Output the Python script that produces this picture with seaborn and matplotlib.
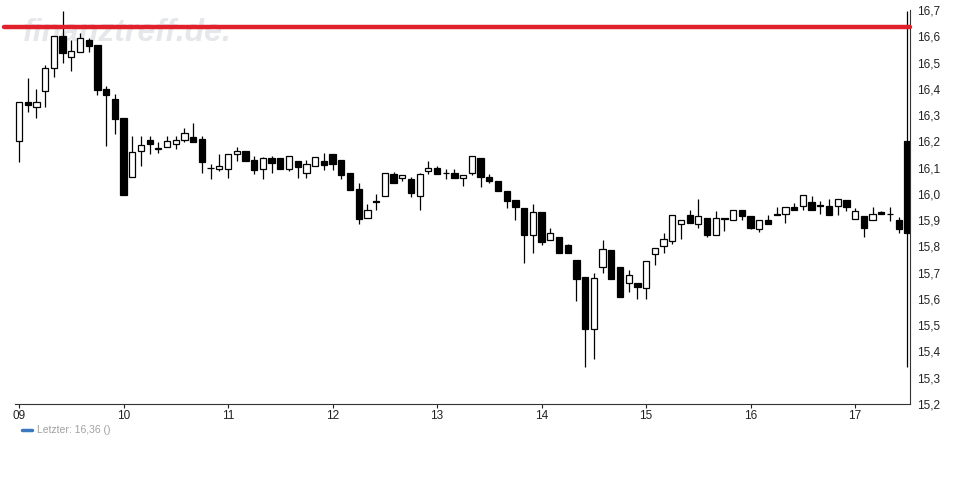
import matplotlib
matplotlib.use("Agg")
import matplotlib.pyplot as plt
from matplotlib.lines import Line2D
import seaborn as sns
import pandas as pd

# 2-hour candles, 12 per day, day 09 .. 17
day_labels = ["09", "10", "11", "12", "13", "14", "15", "16", "17"]
candles_per_day = 12

opens = [16.20, 16.35, 16.33, 16.39, 16.48, 16.60, 16.522, 16.541, 16.586, 16.567,
         16.40, 16.361, 16.289, 16.063, 16.163, 16.205, 16.172, 16.177, 16.189, 16.204,
         16.215, 16.208, 16.097, 16.096, 16.096, 16.151, 16.162, 16.128, 16.096, 16.135,
         16.135, 16.096, 16.124, 16.078, 16.105, 16.124, 16.151, 16.128, 16.078, 16.018,
         15.907, 15.969, 15.991, 16.075, 16.059, 16.056, 15.991, 16.088, 16.097, 16.078,
         16.078, 16.059, 16.078, 16.137, 16.063, 16.048, 16.010, 15.976, 15.945, 15.842,
         15.930, 15.823, 15.835, 15.804, 15.747, 15.683, 15.485, 15.723, 15.786, 15.722,
         15.660, 15.660, 15.641, 15.770, 15.800, 15.819, 15.884, 15.918, 15.884, 15.907,
         15.842, 15.905, 15.900, 15.938, 15.915, 15.865, 15.900, 15.920, 15.922, 15.949,
         15.953, 15.968, 15.953, 15.953, 15.953, 15.976, 15.903, 15.915, 15.900, 15.931,
         15.922, 15.900, 16.200]
highs = [16.35, 16.44, 16.40, 16.49, 16.60, 16.696, 16.586, 16.611, 16.595, 16.567,
         16.411, 16.379, 16.289, 16.22, 16.22, 16.22, 16.199, 16.22, 16.22, 16.251,
         16.27, 16.22, 16.114, 16.152, 16.151, 16.178, 16.162, 16.144, 16.14, 16.144,
         16.135, 16.143, 16.124, 16.128, 16.139, 16.156, 16.151, 16.128, 16.078, 16.04,
         15.96, 15.999, 16.078, 16.082, 16.071, 16.063, 16.081, 16.125, 16.105, 16.093,
         16.093, 16.071, 16.144, 16.137, 16.075, 16.048, 16.010, 15.976, 15.945, 15.962,
         15.930, 15.869, 15.835, 15.808, 15.747, 15.683, 15.698, 15.824, 15.786, 15.722,
         15.710, 15.660, 15.745, 15.793, 15.852, 15.918, 15.900, 15.938, 15.979, 15.907,
         15.934, 15.907, 15.938, 15.938, 15.915, 15.900, 15.918, 15.949, 15.949, 15.964,
         15.995, 15.992, 15.972, 15.979, 15.979, 15.976, 15.945, 15.915, 15.949, 15.934,
         15.949, 15.911, 16.696]
lows = [16.12, 16.31, 16.29, 16.33, 16.445, 16.50, 16.469, 16.541, 16.541, 16.376,
        16.183, 16.228, 15.997, 16.063, 16.107, 16.152, 16.155, 16.177, 16.17, 16.199,
        16.199, 16.081, 16.058, 16.088, 16.062, 16.126, 16.126, 16.077, 16.058, 16.081,
        16.096, 16.088, 16.062, 16.062, 16.105, 16.091, 16.091, 16.057, 16.014, 15.887,
        15.907, 15.938, 15.991, 16.040, 16.048, 15.989, 15.938, 16.075, 16.075, 16.056,
        16.059, 16.031, 16.071, 16.027, 16.040, 16.012, 15.948, 15.901, 15.738, 15.776,
        15.807, 15.823, 15.774, 15.774, 15.593, 15.342, 15.373, 15.698, 15.677, 15.609,
        15.628, 15.599, 15.599, 15.728, 15.776, 15.808, 15.827, 15.888, 15.869, 15.835,
        15.842, 15.858, 15.900, 15.900, 15.865, 15.854, 15.887, 15.918, 15.888, 15.938,
        15.938, 15.938, 15.922, 15.918, 15.918, 15.934, 15.903, 15.837, 15.900, 15.922,
        15.896, 15.850, 15.342]
closes = [16.35, 16.34, 16.35, 16.48, 16.60, 16.537, 16.544, 16.592, 16.564, 16.395,
          16.378, 16.286, 15.997, 16.161, 16.185, 16.189, 16.170, 16.201, 16.205, 16.231,
          16.199, 16.123, 16.097, 16.105, 16.151, 16.162, 16.126, 16.092, 16.135, 16.119,
          16.096, 16.143, 16.104, 16.113, 16.139, 16.109, 16.113, 16.071, 16.014, 15.903,
          15.938, 15.969, 16.078, 16.040, 16.071, 16.002, 16.075, 16.097, 16.075, 16.078,
          16.059, 16.071, 16.144, 16.063, 16.048, 16.012, 15.974, 15.951, 15.842, 15.930,
          15.816, 15.850, 15.774, 15.774, 15.677, 15.485, 15.679, 15.789, 15.677, 15.609,
          15.690, 15.644, 15.745, 15.793, 15.827, 15.918, 15.900, 15.888, 15.915, 15.842,
          15.907, 15.905, 15.938, 15.915, 15.869, 15.900, 15.887, 15.920, 15.949, 15.938,
          15.995, 15.938, 15.953, 15.918, 15.979, 15.949, 15.934, 15.869, 15.922, 15.922,
          15.922, 15.865, 15.850]

y_ticks = [15.2, 15.3, 15.4, 15.5, 15.6, 15.7, 15.8, 15.9, 16.0, 16.1, 16.2, 16.3, 16.4, 16.5, 16.6, 16.7]
ref_level = 16.635
last_label = "Letzter: 16,36 ()"
watermark = "finanztreff.de."

df = pd.DataFrame({"open": opens, "high": highs, "low": lows, "close": closes})
df["idx"] = range(len(df))
df["up"] = df["close"] > df["open"]
df["bottom"] = df[["open", "close"]].min(axis=1)
df["height"] = (df["close"] - df["open"]).abs().clip(lower=0.003)

sns.set_style("white")
plt.rcParams["font.family"] = ["Liberation Sans", "DejaVu Sans"]

fig = plt.figure(figsize=(9.7, 5.0), dpi=100)
ax = fig.add_axes([15 / 970, 1 - 404 / 500, (910 - 15) / 970, 394 / 500])

# watermark, behind the candles
fig.text(23 / 970, 1 - 18 / 500, watermark, fontsize=23,
         fontweight="bold", fontstyle="italic", color="#e6e7ea", va="top", ha="left", zorder=-1)

# wicks
ax.vlines(df["idx"], df["low"], df["high"], color="black", linewidth=0.9, zorder=2)

# bodies
body_w = 0.72
ax.bar(df["idx"], df["height"], bottom=df["bottom"], width=body_w,
       color=["white" if u else "black" for u in df["up"]],
       edgecolor="black", linewidth=0.9, zorder=3)

# reference line
ax.axhline(ref_level, xmin=-0.0125, xmax=1.0, color="#e0202a", linewidth=3.2,
           solid_capstyle="round", clip_on=False, zorder=4)

ax.set_xlim(-0.46, 102.3)
ax.set_ylim(15.2, 16.7)
ax.patch.set_alpha(0)

ax.set_xticks([i * candles_per_day for i in range(len(day_labels))])
ax.set_xticklabels(day_labels)
ax.set_yticks(y_ticks)
ax.set_yticklabels([f"{v:.1f}".replace(".", ",") for v in y_ticks])
ax.yaxis.tick_right()
ax.tick_params(axis="y", length=0, pad=5, labelsize=8.5, colors="#222222")
ax.tick_params(axis="x", length=3, width=0.8, pad=1, labelsize=8.5, colors="#222222",
               bottom=True)

sns.despine(ax=ax, left=True, top=True, right=False, bottom=False)
for side in ["right", "bottom"]:
    ax.spines[side].set_color("#333333")
    ax.spines[side].set_linewidth(0.8)
ax.grid(False)

# legend entry
fig.add_artist(Line2D([22 / 970, 32 / 970], [1 - 430 / 500] * 2, color="#3a78c0", linewidth=2.5))
fig.text(37 / 970, 1 - 430 / 500, last_label, fontsize=7.5, color="#a0a0a0", va="center", ha="left")

fig.savefig("out.png", dpi=100)
